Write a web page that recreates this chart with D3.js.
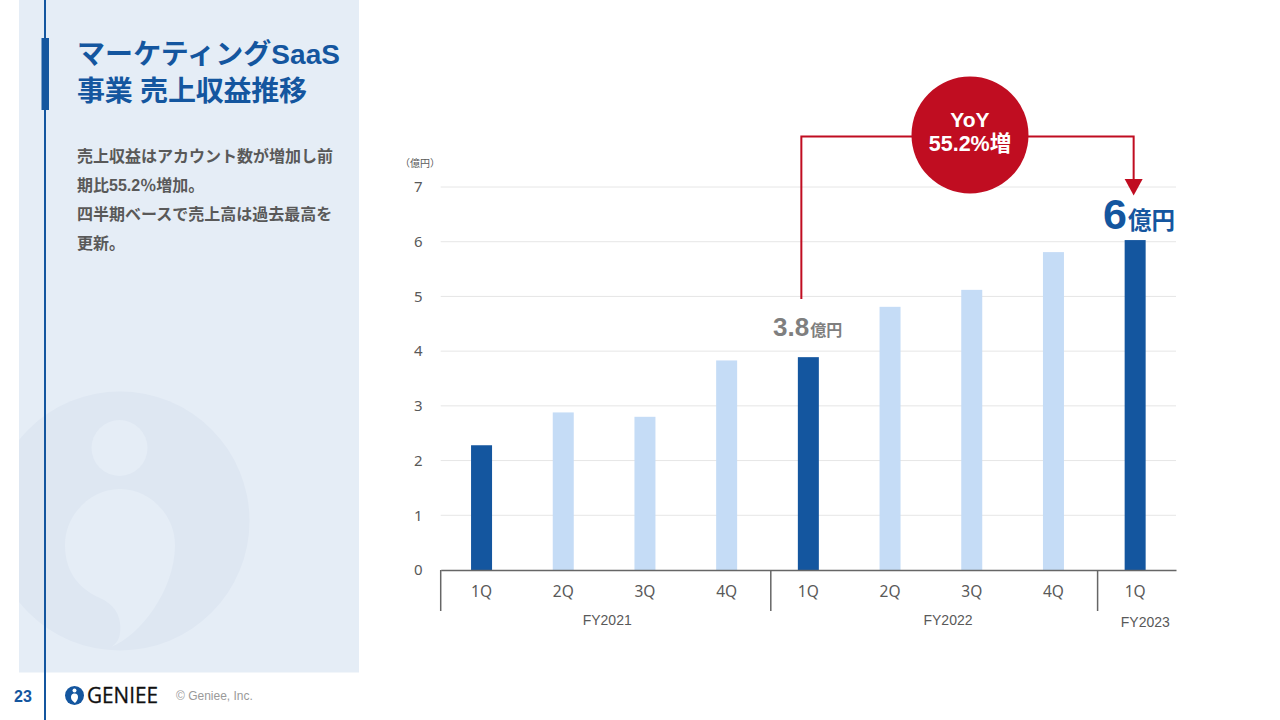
<!DOCTYPE html>
<html>
<head>
<meta charset="utf-8">
<script src="https://cdn.jsdelivr.net/npm/d3@7"></script>
<style>
  html, body { margin: 0; padding: 0; background: #fff; }
  svg { display: block; }
  text { font-family: "Liberation Sans", "Noto Sans CJK JP", sans-serif; }
  .jp { font-family: "Noto Sans CJK JP", sans-serif; }
</style>
</head>
<body>
<svg width="1280" height="720"></svg>
<script>
// Chart values
var quarters = ["1Q", "2Q", "3Q", "4Q", "1Q", "2Q", "3Q", "4Q", "1Q"];
var revenue = [2.28, 2.88, 2.8, 3.83, 3.89, 4.81, 5.12, 5.81, 6.03];
var highlighted = [true, false, false, false, true, false, false, false, true];
var yTicks = [0, 1, 2, 3, 4, 5, 6, 7];
var fiscalYears = ["FY2021", "FY2022", "FY2023"];
var fiscalStart = [0, 4, 8];
var titleLines = ["マーケティングSaaS", "事業 売上収益推移"];
var bodyLines = ["売上収益はアカウント数が増加し前", "期比55.2％増加。", "四半期ベースで売上高は過去最高を", "更新。"];

var navy = "#14569f", pale = "#c5dcf6", red = "#c00d21", grey = "#595959";

var svg = d3.select("svg");

// Left panel
svg.append("rect").attr("x", 19).attr("y", 0).attr("width", 340).attr("height", 672.5).attr("fill", "#e5edf6");

// Watermark logo, clipped to the panel
svg.append("clipPath").attr("id", "panelClip").append("rect")
  .attr("x", 19).attr("y", 0).attr("width", 340).attr("height", 672.5);
var mark = svg.append("g").attr("clip-path", "url(#panelClip)");
mark.append("circle").attr("cx", 120).attr("cy", 521).attr("r", 129.5).attr("fill", "#dee7f2");
mark.append("circle").attr("cx", 119.5).attr("cy", 448).attr("r", 28).attr("fill", "#e5edf6");
mark.append("path").attr("fill", "#e5edf6")
  .attr("d", "M120 489 C90 489 65 515 65 545 C65 575 82 590 100 598 C116 605 122 618 120 633 C119 640 116 644 111 647 C140 636 175 590 175 545 C175 515 150 489 120 489 Z");

// Vertical rule and title accent
svg.append("rect").attr("x", 44).attr("y", 0).attr("width", 2).attr("height", 720).attr("fill", navy);
svg.append("rect").attr("x", 41.5).attr("y", 38).attr("width", 7.5).attr("height", 72).attr("fill", navy);

// Title and body text
svg.selectAll(".title").data(titleLines).enter().append("text")
  .attr("class", "title")
  .attr("x", 77)
  .attr("y", (d, i) => 64 + i * 37)
  .attr("font-size", 28)
  .attr("font-weight", 700)
  .attr("fill", navy)
  .attr("textLength", (d, i) => (i === 0 ? 263 : 230))
  .attr("lengthAdjust", "spacing")
  .text((d) => d);

svg.selectAll(".body").data(bodyLines).enter().append("text")
  .attr("class", "body")
  .attr("x", 77)
  .attr("y", (d, i) => 161.5 + i * 29)
  .attr("font-size", 16)
  .attr("font-weight", 700)
  .attr("fill", grey)
  .text((d) => d);

// Footer
svg.append("text").attr("x", 23).attr("y", 702).attr("text-anchor", "middle")
  .attr("font-size", 16).attr("font-weight", 700).attr("fill", navy).text("23");
svg.append("circle").attr("cx", 74.5).attr("cy", 695.5).attr("r", 9.5).attr("fill", navy);
svg.append("circle").attr("cx", 74.5).attr("cy", 690.5).attr("r", 2).attr("fill", "#fff");
svg.append("path").attr("fill", "#fff")
  .attr("d", "M74.5 693.5 C71.5 693.5 71 696 71 697.5 C71 700 73 701 75 703 C77 701 78 699 78 697 C78 695 77 693.5 74.5 693.5 Z");
svg.append("text").attr("x", 87).attr("y", 703)
  .attr("font-size", 21).attr("fill", "#111").attr("stroke", "#111").attr("stroke-width", 0.3)
  .attr("textLength", 71).attr("lengthAdjust", "spacingAndGlyphs")
  .style("font-family", "'Open Sans', sans-serif")
  .text("GENIEE");
svg.append("text").attr("x", 176).attr("y", 700).attr("font-size", 12).attr("fill", "#9a9a9a").text("© Geniee, Inc.");

// Scales
var x = d3.scaleBand().domain(d3.range(quarters.length)).range([440.7, 1176]).padding(0);
var y = d3.scaleLinear().domain([0, 7]).range([570, 187]);
var barWidth = 21;

// Gridlines
svg.append("g").selectAll("line").data(yTicks.slice(1)).enter().append("line")
  .attr("x1", x.range()[0]).attr("x2", x.range()[1])
  .attr("y1", (d) => y(d)).attr("y2", (d) => y(d))
  .attr("stroke", "#e6e6e6").attr("stroke-width", 1);

// Y axis
var yAxis = svg.append("g")
  .attr("transform", "translate(" + x.range()[0] + ",0)")
  .call(d3.axisLeft(y).tickValues(yTicks).tickFormat(d3.format("d")).tickSize(0).tickPadding(18));
yAxis.select(".domain").remove();
yAxis.selectAll("text").attr("font-size", 15).attr("fill", grey).style("font-family", "'Noto Sans', sans-serif");

svg.append("text").attr("class", "jp").attr("x", 420).attr("y", 167).attr("text-anchor", "middle")
  .attr("font-size", 10).attr("fill", grey).text("（億円）");

// Bars
svg.append("g").selectAll("rect").data(revenue).enter().append("rect")
  .attr("x", (d, i) => x(i) + x.bandwidth() / 2 - barWidth / 2)
  .attr("y", (d) => y(d))
  .attr("width", barWidth)
  .attr("height", (d) => y(0) - y(d))
  .attr("fill", (d, i) => (highlighted[i] ? navy : pale));

// Category axis
var xAxis = svg.append("g")
  .attr("transform", "translate(0," + y(0) + ")")
  .call(d3.axisBottom(x).tickFormat((i) => quarters[i]).tickSize(0).tickPadding(16));
xAxis.select(".domain").attr("stroke", "#666").attr("stroke-width", 1.5);
xAxis.selectAll("text").attr("font-size", 15.5).attr("fill", grey).style("font-family", "'Noto Sans', sans-serif");

// Fiscal year separators sit a little right of the band edge, except the first
var separatorX = (d) => x(d) + (d === 0 ? 0 : 3.3);
svg.append("g").selectAll("line").data(fiscalStart).enter().append("line")
  .attr("x1", separatorX).attr("x2", separatorX)
  .attr("y1", y(0)).attr("y2", y(0) + 41)
  .attr("stroke", "#666").attr("stroke-width", 1.5);

// Fiscal year labels, placed off the band the year starts in
var labelOffset = [166.5, 180.5, 51];
svg.append("g").selectAll("text").data(fiscalYears).enter().append("text")
  .attr("x", (d, i) => x(fiscalStart[i]) + labelOffset[i])
  .attr("y", (d, i) => (i === 2 ? 627 : 625))
  .attr("text-anchor", "middle")
  .attr("font-size", 14)
  .attr("fill", grey)
  .text((d) => d);

// YoY bracket from the 1Q FY2022 bar to the 1Q FY2023 bar
var fromX = x(4) + x.bandwidth() / 2 - 7;
var toX = x(8) + x.bandwidth() / 2 - 1.5;
var bracketY = 136.5;
svg.append("path").attr("fill", "none").attr("stroke", red).attr("stroke-width", 2)
  .attr("d", d3.line()([[fromX, 299], [fromX, bracketY], [toX, bracketY], [toX, 180]]));
svg.append("path").attr("fill", red)
  .attr("d", d3.line()([[toX - 9, 179], [toX + 9, 179], [toX, 195.5]]) + "Z");
svg.append("circle").attr("cx", 970).attr("cy", 135).attr("r", 58.5).attr("fill", red);
svg.append("text").attr("x", 970).attr("y", 127).attr("text-anchor", "middle")
  .attr("font-size", 21).attr("font-weight", 700).attr("fill", "#fff").text("YoY");
svg.append("text").attr("x", 970).attr("y", 151).attr("text-anchor", "middle")
  .attr("font-size", 21.5).attr("font-weight", 700).attr("fill", "#fff").text("55.2%増");

// Value callouts
var low = svg.append("text").attr("x", 773).attr("y", 336).attr("font-weight", 700).attr("fill", "#7f7f7f");
low.append("tspan").attr("font-size", 26).text("3.8");
low.append("tspan").attr("font-size", 16).attr("dx", 1).text("億円");

var high = svg.append("text").attr("x", 1103).attr("y", 229).attr("font-weight", 700).attr("fill", navy);
high.append("tspan").attr("font-size", 43).text("6");
high.append("tspan").attr("font-size", 23.5).attr("dx", 1).text("億円");
</script>
</body>
</html>
